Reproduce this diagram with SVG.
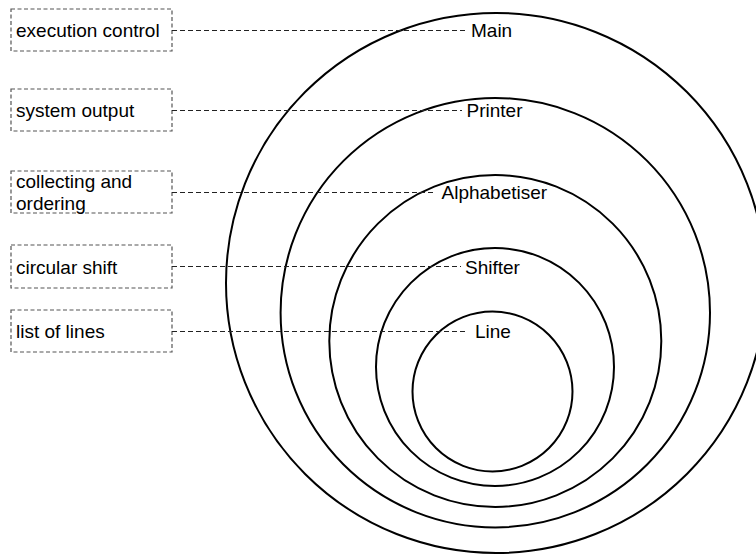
<svg xmlns="http://www.w3.org/2000/svg" width="756" height="556" viewBox="0 0 756 556">
  <style>
    text { font-family: "Liberation Sans", Arial, Helvetica, sans-serif; font-size: 19px; fill: #000; }
    .ring { fill: none; stroke: #000; stroke-width: 2; }
    .note { fill: #fff; stroke: #555; stroke-width: 1.2; stroke-dasharray: 4 2.5; }
    .link { fill: none; stroke: #222; stroke-width: 1.2; stroke-dasharray: 5 3; }
  </style>
  <rect width="756" height="556" fill="#fff"/>

  <!-- nested module rings -->
  <g id="main">
    <circle class="ring" cx="496" cy="283" r="270"/>
    <text x="471" y="37">Main</text>
  </g>
  <g id="printer">
    <circle class="ring" cx="495.3" cy="312.7" r="214.7"/>
    <text x="466.5" y="117">Printer</text>
  </g>
  <g id="alphabetiser">
    <circle class="ring" cx="495.3" cy="341" r="166"/>
    <text x="441.5" y="199">Alphabetiser</text>
  </g>
  <g id="shifter">
    <circle class="ring" cx="495" cy="367" r="119"/>
    <text x="465" y="273.5">Shifter</text>
  </g>
  <g id="line">
    <circle class="ring" cx="492.5" cy="391.5" r="80"/>
    <text x="475" y="338">Line</text>
  </g>

  <!-- responsibility notes -->
  <g id="note-execution">
    <rect class="note" x="11" y="9" width="161" height="42"/>
    <text x="16" y="37">execution control</text>
  </g>
  <g id="note-output">
    <rect class="note" x="11" y="89" width="161" height="42"/>
    <text x="16" y="117">system output</text>
  </g>
  <g id="note-ordering">
    <rect class="note" x="11" y="171" width="161" height="42"/>
    <text x="16" y="187.5">collecting and</text>
    <text x="16" y="209.5">ordering</text>
  </g>
  <g id="note-shift">
    <rect class="note" x="11" y="245" width="161" height="43"/>
    <text x="16" y="273.5">circular shift</text>
  </g>
  <g id="note-lines">
    <rect class="note" x="11" y="310" width="161" height="42"/>
    <text x="16" y="338">list of lines</text>
  </g>

  <!-- dashed leaders from notes to ring labels -->
  <g id="connectors">
    <line class="link" x1="172" y1="30.5" x2="467" y2="30.5"/>
    <line class="link" x1="172" y1="110.5" x2="462" y2="110.5"/>
    <line class="link" x1="172" y1="192.5" x2="434" y2="192.5"/>
    <line class="link" x1="172" y1="266.5" x2="461" y2="266.5"/>
    <line class="link" x1="172" y1="331.5" x2="467" y2="331.5"/>
  </g>
</svg>
